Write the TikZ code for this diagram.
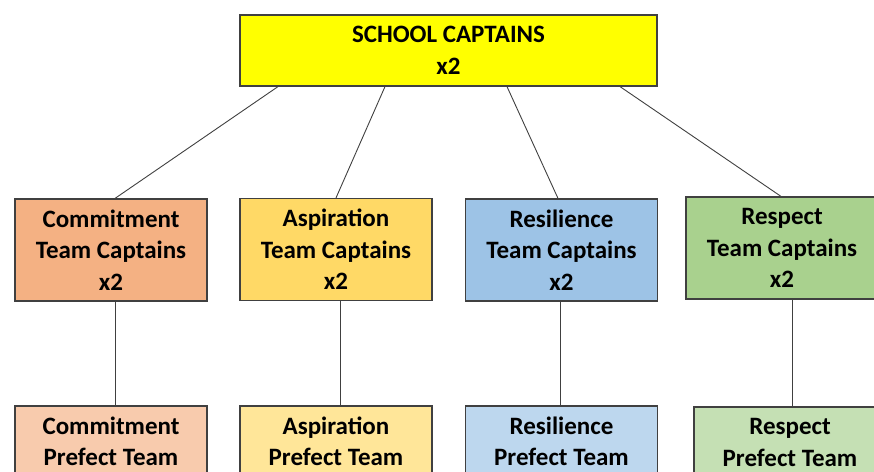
\documentclass[tikz,border=0pt]{standalone}
\usepackage{fontspec}
\setmainfont{Carlito}
\definecolor{edge}{HTML}{404040}
\definecolor{topfill}{HTML}{FFFF00}
\definecolor{comA}{HTML}{F4B183}
\definecolor{comB}{HTML}{F8CBAD}
\definecolor{aspA}{HTML}{FFD966}
\definecolor{aspB}{HTML}{FFE699}
\definecolor{resA}{HTML}{9DC3E6}
\definecolor{resB}{HTML}{BDD7EE}
\definecolor{rspA}{HTML}{A9D18E}
\definecolor{rspB}{HTML}{C5E0B4}
\tikzset{
  box/.style={draw=edge, line width=1.2pt, rectangle, align=center, inner sep=0pt,
    font=\fontsize{25}{31.5}\selectfont\bfseries, text=black,
    minimum width=192pt, minimum height=102pt},
  link/.style={draw=edge, line width=0.9pt}
}
\begin{document}
\begin{tikzpicture}[x=1pt,y=-1pt]
\useasboundingbox (0,0) rectangle (874,471);
\clip (0,0) rectangle (874,471);
\node[box, fill=topfill, minimum width=417pt, minimum height=71pt] (top) at (448.5,50.5) {SCHOOL CAPTAINS\\x2};
\node[box, fill=comA] (c1) at (111,250) {Commitment\\Team Captains\\x2};
\node[box, fill=aspA] (c2) at (336,249.5) {Aspiration\\Team Captains\\x2};
\node[box, fill=resA] (c3) at (561.5,250) {Resilience\\Team Captains\\x2};
\node[box, fill=rspA] (c4) at (782,248) {Respect\\Team Captains\\x2};
\node[box, fill=comB] (p1) at (111,457) {Commitment\\Prefect Team\\\mbox{}};
\node[box, fill=aspB] (p2) at (336,457) {Aspiration\\Prefect Team\\\mbox{}};
\node[box, fill=resB] (p3) at (561.5,457) {Resilience\\Prefect Team\\\mbox{}};
\node[box, fill=rspB] (p4) at (790,458) {Respect\\Prefect Team\\\mbox{}};
\draw[link] ([xshift=-170.5pt]top.south) -- ([xshift=4pt]c1.north);
\draw[link] ([xshift=-63.5pt]top.south) -- (c2.north);
\draw[link] ([xshift=58.5pt]top.south) -- ([xshift=-3.5pt]c3.north);
\draw[link] ([xshift=171.5pt]top.south) -- ([xshift=-1pt]c4.north);
\draw[link] ([xshift=4pt]c1.south) -- ([xshift=4pt]p1.north);
\draw[link] ([xshift=4pt]c2.south) -- ([xshift=4pt]p2.north);
\draw[link] ([xshift=-1.5pt]c3.south) -- ([xshift=-1.5pt]p3.north);
\draw[link] ([xshift=10pt]c4.south) -- ([xshift=2pt]p4.north);
\end{tikzpicture}
\end{document}
